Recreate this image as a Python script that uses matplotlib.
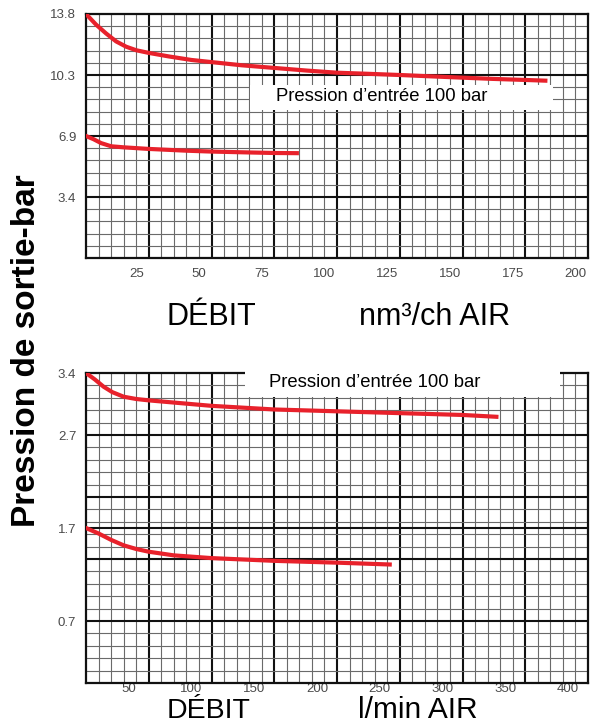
import numpy as np
import matplotlib.pyplot as plt
from matplotlib.patches import Rectangle

plt.rcParams['font.family'] = ['Liberation Sans', 'DejaVu Sans']

# top chart: flow nm3/h air, outlet pressure bar
top_hi_x = [0, 4, 8, 12, 16, 20, 25, 33, 42, 50, 62, 75, 88, 100, 112, 125, 138, 150, 162, 175, 183]
top_hi_y = [13.8, 13.2, 12.7, 12.25, 11.95, 11.75, 11.6, 11.4, 11.2, 11.08, 10.9, 10.75, 10.6, 10.48, 10.42, 10.35, 10.27, 10.2, 10.13, 10.07, 10.03]
top_lo_x = [0, 3, 6, 10, 15, 25, 40, 50, 65, 75, 84]
top_lo_y = [6.9, 6.72, 6.5, 6.32, 6.26, 6.17, 6.07, 6.02, 5.97, 5.94, 5.93]

# bottom chart: flow l/min air
bot_hi_x = [0, 7, 14, 21, 30, 40, 50, 75, 100, 150, 200, 250, 300, 327]
bot_hi_y = [3.4, 3.33, 3.25, 3.19, 3.14, 3.115, 3.1, 3.07, 3.04, 3.0, 2.98, 2.96, 2.94, 2.92]
bot_lo_x = [0, 10, 20, 30, 40, 50, 70, 100, 150, 200, 242]
bot_lo_y = [1.7, 1.64, 1.57, 1.51, 1.47, 1.44, 1.4, 1.37, 1.34, 1.32, 1.3]

top_xticks = [25, 50, 75, 100, 125, 150, 175, 200]
top_yticks = [13.8, 10.35, 6.9, 3.45]
top_ylabels = ['13.8', '10.3', '6.9', '3.4']
bot_xticks = [50, 100, 150, 200, 250, 300, 350, 400]
bot_yticks = [3.4, 2.72, 1.7, 0.68]
bot_ylabels = ['3.4', '2.7', '1.7', '0.7']

red = '#e8212b'

def graph_paper(ax, xmax, xmaj, xmin, ymax, ymaj, ymin):
    for x in np.arange(xmin, xmax, xmin):
        major = np.isclose(x % xmaj, 0) or np.isclose(x % xmaj, xmaj)
        ax.axvline(x, color='#111111' if major else '#6a6a6a',
                   lw=1.5 if major else 0.8, zorder=1)
    for y in np.arange(ymin, ymax - ymin / 2, ymin):
        major = np.isclose(y % ymaj, 0) or np.isclose(y % ymaj, ymaj)
        ax.axhline(y, color='#111111' if major else '#6a6a6a',
                   lw=1.5 if major else 0.8, zorder=1)
    ax.set_xlim(0, xmax)
    ax.set_ylim(0, ymax)
    for s in ax.spines.values():
        s.set_linewidth(1.6)
        s.set_color('#111111')
    ax.tick_params(length=0, labelsize=9.5, labelcolor='#4a4a4a')


fig = plt.figure(figsize=(5.96, 7.25), dpi=100)

ax1 = fig.add_axes([0.1443, 0.6441, 0.8423, 0.3366])
graph_paper(ax1, 200, 25, 5, 13.8, 3.45, 0.69)
ax1.plot(top_hi_x, top_hi_y, color=red, lw=3, zorder=3)
ax1.plot(top_lo_x, top_lo_y, color=red, lw=3, zorder=3)
ax1.set_xticks([v - 5 for v in top_xticks], [str(v) for v in top_xticks])
ax1.set_yticks(top_yticks, top_ylabels)
ax1.tick_params(axis='x', pad=7)
ax1.tick_params(axis='y', pad=7)
ax1.add_patch(Rectangle((0.327, 0.607), 0.603, 0.102, transform=ax1.transAxes,
                        facecolor='white', edgecolor='none', zorder=4))
ax1.text(0.378, 0.66, 'Pression d\u2019entrée 100 bar', transform=ax1.transAxes,
         fontsize=13.3, va='center', ha='left', zorder=5)

ax2 = fig.add_axes([0.1443, 0.0579, 0.8423, 0.4276])
graph_paper(ax2, 400, 50, 10, 3.4, 0.68, 0.136)
ax2.axhline(1.7, color='#111111', lw=1.5, zorder=1)
ax2.plot(bot_hi_x, bot_hi_y, color=red, lw=3, zorder=3)
ax2.plot(bot_lo_x, bot_lo_y, color=red, lw=3, zorder=3)
ax2.set_xticks([v - 16 for v in bot_xticks], [str(v) for v in bot_xticks])
ax2.set_yticks(bot_yticks, bot_ylabels)
ax2.tick_params(axis='x', pad=0)
ax2.tick_params(axis='y', pad=7)
ax2.add_patch(Rectangle((0.317, 0.923), 0.627, 0.1, transform=ax2.transAxes,
                        facecolor='white', edgecolor='none', zorder=4, clip_on=False))
ax2.text(0.365, 0.968, 'Pression d\u2019entrée 100 bar', transform=ax2.transAxes,
         fontsize=13.3, va='center', ha='left', zorder=5)

fig.text(0.28, 0.552, 'DÉBIT', fontsize=22, ha='left', va='baseline')
fig.text(0.602, 0.552, 'nm\u00b3/ch AIR', fontsize=22, ha='left', va='baseline')
fig.text(0.28, 0.002, 'DÉBIT', fontsize=20.5, ha='left', va='bottom')
fig.text(0.6, 0.002, 'l/min AIR', fontsize=21.5, ha='left', va='bottom')
fig.text(0.045, 0.516, 'Pression de sortie-bar', fontsize=24, fontweight='bold',
         rotation=90, ha='center', va='center')

fig.savefig('out.png', dpi=100)
